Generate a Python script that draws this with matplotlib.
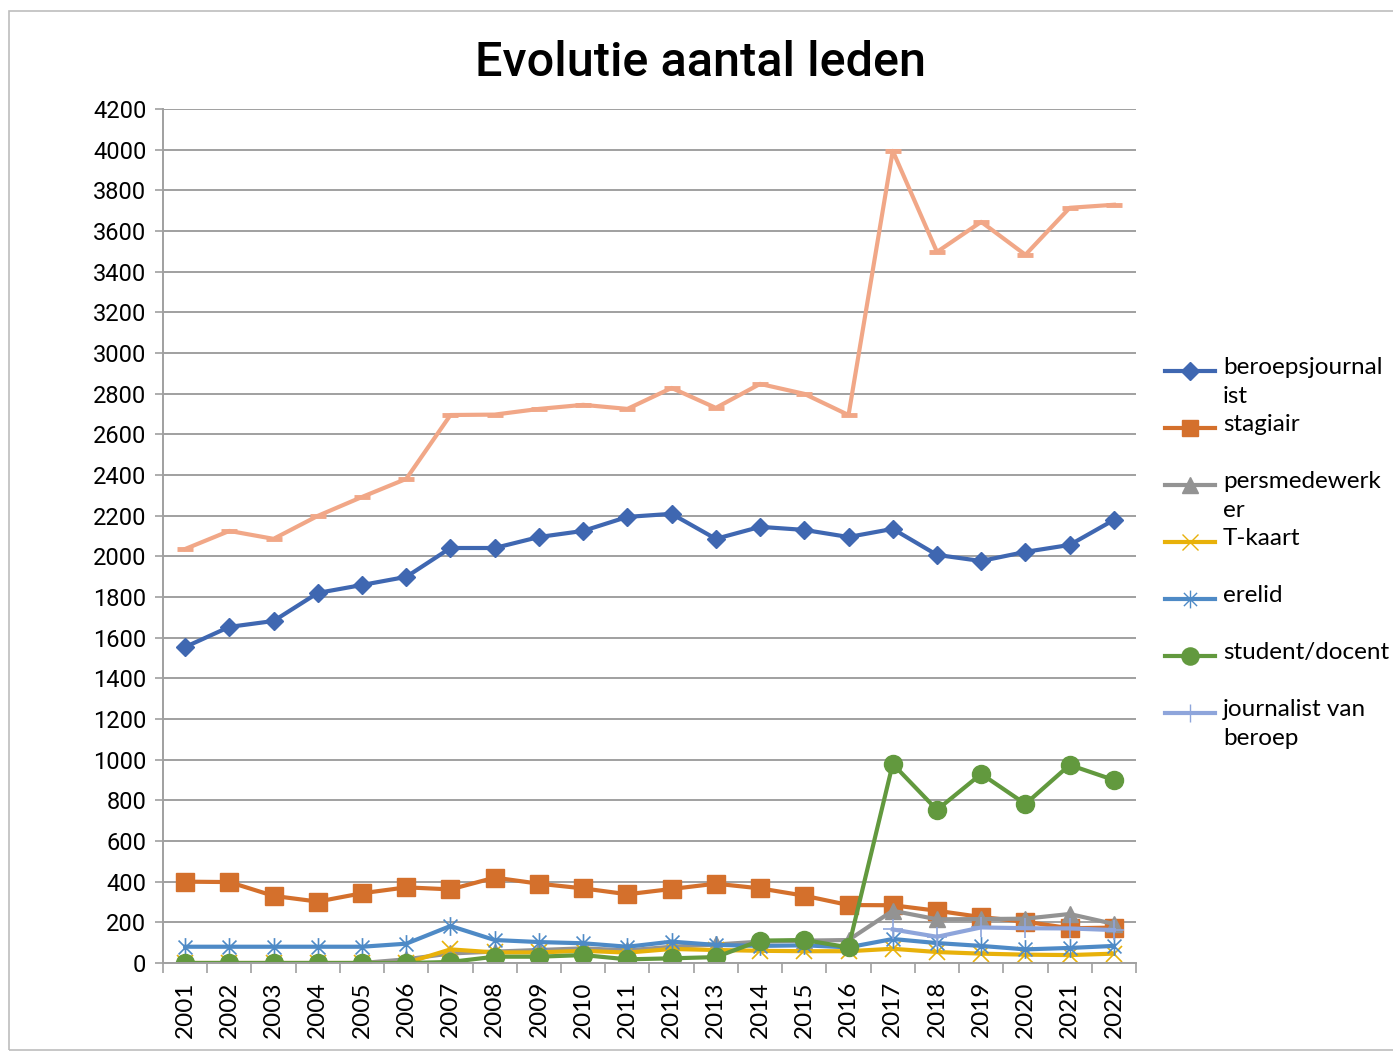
import matplotlib
matplotlib.use("Agg")
import matplotlib.pyplot as plt
from matplotlib.lines import Line2D
from matplotlib.patches import Rectangle
from matplotlib.path import Path

years = list(range(2001, 2023))

beroepsjournalist = [1554, 1653, 1682, 1820, 1859, 1899, 2041, 2041, 2095, 2125, 2194,
                     2209, 2086, 2145, 2130, 2095, 2135, 2007, 1977, 2022, 2056, 2179]
stagiair = [400, 398, 330, 302, 343, 372, 362, 420, 390, 367, 338,
            364, 390, 367, 331, 285, 284, 257, 226, 203, 171, 174]
persmedewerker = [0, 0, 0, 0, 0, 18, 47, 56, 64, 72, 62,
                  80, 91, 105, 110, 113, 257, 215, 216, 218, 241, 192]
t_kaart = [0, 0, 0, 0, 0, 0, 67, 52, 52, 60, 51,
           69, 64, 60, 58, 58, 70, 54, 46, 41, 39, 46]
erelid = [80, 80, 80, 80, 80, 95, 182, 113, 103, 97, 80,
          105, 89, 84, 87, 77, 118, 98, 84, 67, 74, 84]
student_docent = [0, 0, 0, 0, 0, 0, 5, 31, 31, 39, 18,
                  23, 29, 110, 113, 77, 979, 753, 930, 782, 974, 900]
journalist_van_beroep = [None] * 16 + [165, 129, 175, 171, 170, 162]
totaal = [2036, 2125, 2086, 2199, 2292, 2381, 2695, 2697, 2725, 2745, 2725,
          2828, 2730, 2848, 2799, 2695, 3994, 3497, 3645, 3483, 3714, 3729]

labels = ["beroepsjournal\nist", "stagiair", "persmedewerk\ner", "T-kaart",
          "erelid", "student/docent", "journalist van\nberoep"]

# excel-like star marker: an X with a vertical bar
star = Path([(-1, -1), (1, 1), (-1, 1), (1, -1), (0, -1.35), (0, 1.35)],
            [Path.MOVETO, Path.LINETO, Path.MOVETO, Path.LINETO, Path.MOVETO, Path.LINETO])

styles = [
    (beroepsjournalist, "#3F67B1", "D", 9.5, "#3F67B1"),
    (stagiair, "#D4702C", "s", 12.5, "#D4702C"),
    (persmedewerker, "#939393", "^", 11.5, "#939393"),
    (t_kaart, "#E8B10A", "x", 11.5, "#E8B10A"),
    (erelid, "#4E8AC6", star, 13.5, "#4E8AC6"),
    (student_docent, "#62993E", "o", 13, "#62993E"),
    (journalist_van_beroep, "#8EA5DB", "+", 14, "#8EA5DB"),
]

fig = plt.figure(figsize=(13.93, 10.52), dpi=100)
fig.add_artist(Rectangle((9 / 1393, 0.002), 1.2, 1 - 11 / 1052 - 0.002, transform=fig.transFigure,
                         fill=False, edgecolor="#BDBDBD", lw=1.2))
ax = fig.add_axes([163 / 1393, 1 - 963 / 1052, (1136 - 163) / 1393, (963 - 109) / 1052])

for data, col, mk, ms, mc in styles:
    ax.plot(years, [float("nan") if v is None else v for v in data], color=col, lw=3.0,
            marker=mk, markersize=ms, markerfacecolor=mc, markeredgecolor=mc,
            markeredgewidth=1.2 if mk in ("x", "+") or mk is star else 1.0)
ax.plot(years, totaal, color="#F1A787", lw=3.0, marker="_", markersize=12,
        markeredgewidth=3.5, markeredgecolor="#F1A787")

ax.set_xlim(2000.5, 2022.5)
ax.set_ylim(0, 4200)
ax.set_yticks(range(0, 4201, 200))
ax.set_xticks(years)
ax.set_xticklabels([str(y) for y in years], rotation=90, fontsize=17.5, family="Lato")
ax.set_xticks([y + 0.5 for y in range(2000, 2023)], minor=True)
ax.tick_params(axis="x", which="major", length=0, pad=13)
ax.tick_params(axis="x", which="minor", length=7, color="#A0A0A0", width=1.2, direction="out")
ax.tick_params(axis="y", length=6, color="#A0A0A0", width=1.2, labelsize=17, pad=6)
for t in ax.get_yticklabels():
    t.set_family("Roboto")
ax.grid(axis="y", color="#A0A0A0", lw=1.4)
ax.set_axisbelow(True)
for s in ("top", "right"):
    ax.spines[s].set_visible(False)
for s in ("left", "bottom"):
    ax.spines[s].set_color("#A0A0A0")
    ax.spines[s].set_linewidth(1.4)

fig.text(0.503, 1 - 63 / 1052, "Evolutie aantal leden", ha="center", va="center",
         fontsize=35, family="Roboto", fontweight="medium")

# legend, handle aligned with first text line
ypix = [371, 428, 485, 542, 599, 656, 713]
for (data, col, mk, ms, mc), lab, yp in zip(styles, labels, ypix):
    yf = 1 - yp / 1052
    fig.add_artist(Line2D([1165 / 1393, 1190 / 1393, 1215 / 1393], [yf, yf, yf],
                          transform=fig.transFigure, color=col, lw=3.0, marker=mk,
                          markevery=[1], markersize=ms * 0.95, markerfacecolor=mc, markeredgecolor=mc))
    fig.text(1223 / 1393, yf + 14 / 1052, lab, ha="left", va="top", fontsize=17.5,
             family="Lato", linespacing=1.45)

fig.savefig("out.png", dpi=100)
